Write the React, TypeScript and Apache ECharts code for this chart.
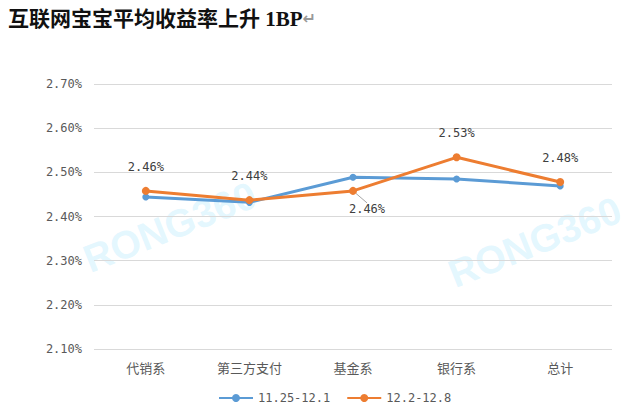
import React, { useEffect, useRef } from "react";
import * as echarts from "echarts";

const categories = ["代销系", "第三方支付", "基金系", "银行系", "总计"];
const seriesNames = ["11.25-12.1", "12.2-12.8"];
const weekA = [2.444, 2.432, 2.489, 2.485, 2.469];
const weekB = [2.458, 2.437, 2.458, 2.534, 2.478];
const yTicks = [2.1, 2.2, 2.3, 2.4, 2.5, 2.6, 2.7];
const titleText = "互联网宝宝平均收益率上升 1BP";

export default function App() {
  const ref = useRef<HTMLDivElement>(null);
  useEffect(() => {
    if (!ref.current) return;
    const chart = echarts.init(ref.current, undefined, { renderer: "svg" });
    const mono = "DejaVu Sans Mono, Noto Sans CJK SC, monospace";
    const wm = (left: number, top: number) => ({
      type: "text",
      left,
      top,
      rotation: 0.38,
      silent: true,
      style: {
        text: "RONG360",
        fontSize: 39,
        fontWeight: "bold",
        fontFamily: "Liberation Sans, Arial, sans-serif",
        fill: "rgba(170,230,252,0.33)",
      },
    });
    chart.setOption({
      animation: false,
      backgroundColor: "#ffffff",
      title: {
        text: "{t|" + titleText + "}{m|↵}",
        left: 3,
        top: 3,
        textStyle: {
          rich: {
            t: {
              fontFamily: "Liberation Serif, Noto Sans CJK SC, serif",
              fontWeight: "bold",
              fontSize: 21,
              color: "#111111",
            },
            m: { fontSize: 16, color: "#999999", fontFamily: "DejaVu Sans" },
          },
        },
      },
      graphic: [wm(78, 175), wm(443, 190)],
      legend: {
        bottom: 4,
        left: 213,
        itemWidth: 34,
        itemHeight: 10,
        itemGap: 16,
        textStyle: { fontFamily: mono, fontSize: 12, color: "#595959" },
        data: seriesNames,
      },
      grid: { left: 94, right: 28, top: 84, bottom: 64 },
      xAxis: {
        type: "category",
        data: categories,
        boundaryGap: true,
        axisLine: { show: false },
        axisTick: { show: false },
        axisLabel: {
          color: "#595959",
          fontSize: 13,
          fontFamily: "Noto Sans CJK SC, sans-serif",
          margin: 12,
        },
      },
      yAxis: {
        type: "value",
        min: yTicks[0],
        max: yTicks[yTicks.length - 1],
        interval: 0.1,
        axisLine: { show: false },
        axisTick: { show: false },
        axisLabel: {
          color: "#595959",
          fontSize: 12,
          fontFamily: mono,
          margin: 12,
          formatter: (v: number) => v.toFixed(2) + "%",
        },
        splitLine: { lineStyle: { color: "#d9d9d9", width: 1 } },
      },
      series: [
        {
          name: seriesNames[0],
          type: "line",
          data: weekA,
          symbol: "circle",
          symbolSize: 7,
          lineStyle: { width: 3, color: "#5b9bd5" },
          itemStyle: { color: "#5b9bd5" },
          z: 2,
        },
        {
          name: seriesNames[1],
          type: "line",
          data: weekB.map((v, i) =>
            i === 2
              ? { value: v, labelLine: { show: true } }
              : { value: v, labelLine: { show: false } }
          ),
          symbol: "circle",
          symbolSize: 8,
          lineStyle: { width: 3, color: "#ed7d31" },
          itemStyle: { color: "#ed7d31" },
          z: 3,
          label: {
            show: true,
            position: "top",
            distance: 14,
            color: "#404040",
            fontSize: 12,
            fontFamily: mono,
            formatter: (p: any) => p.value.toFixed(2) + "%",
          },
          labelLine: { show: false, lineStyle: { color: "#a6a6a6", width: 1 } },
          labelLayout: (p: any) =>
            p.dataIndex === 2 ? { dx: 14, dy: 42 } : {},
        },
      ],
    });
    return () => chart.dispose();
  }, []);
  return <div ref={ref} style={{ width: 640, height: 413, position: "absolute", left: 0, top: 0 }} />;
}
